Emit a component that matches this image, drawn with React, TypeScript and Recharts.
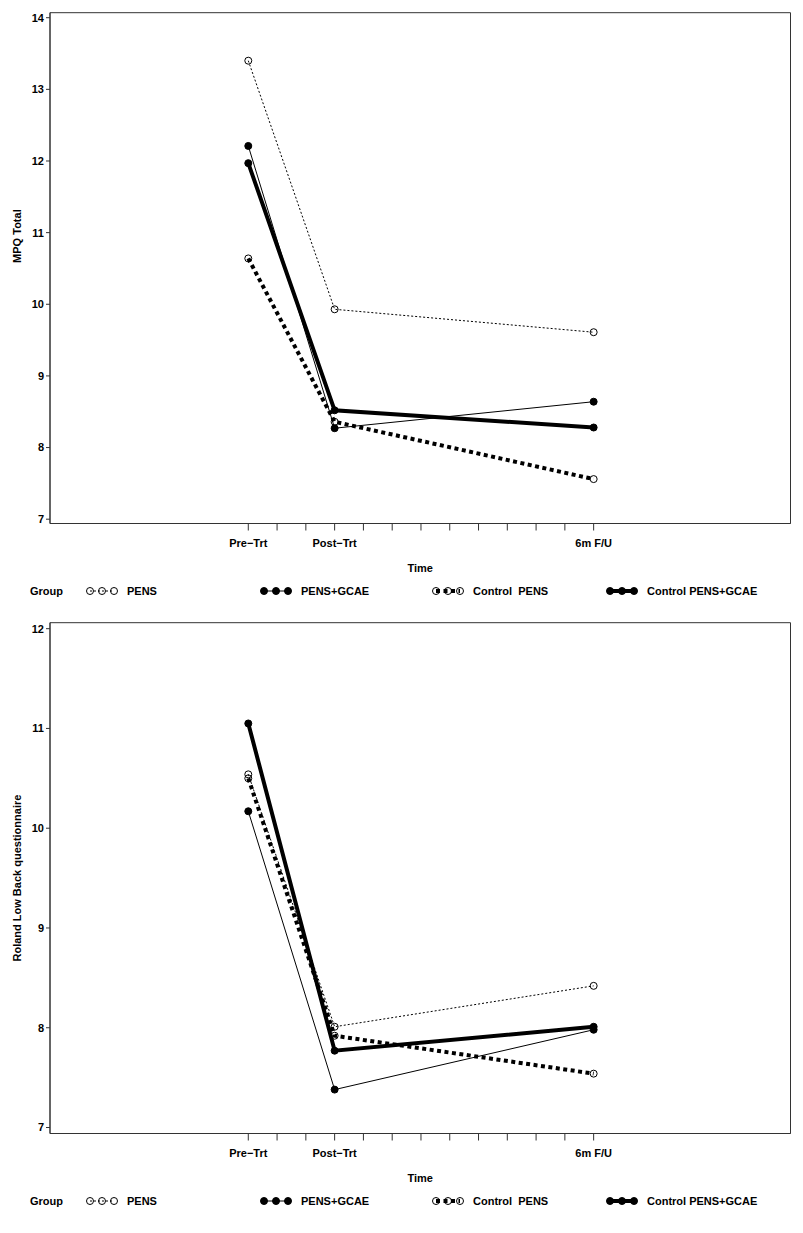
import React from 'react';
import { LineChart, Line, XAxis, YAxis, Label, ReferenceArea } from 'recharts';

// ---- data ----
const timePoints = [0, 3, 12];
const axisTicks = [0, 1, 2, 3, 4, 5, 6, 7, 8, 9, 10, 11, 12];
const tickLabels: Record<number, string> = { 0: 'Pre\u2212Trt', 3: 'Post\u2212Trt', 12: '6m  F/U' };

const groupNames = ['PENS', 'PENS+GCAE', 'Control  PENS', 'Control PENS+GCAE'];

const mpqPens = [13.4, 9.93, 9.61];
const mpqPensGcae = [12.21, 8.27, 8.64];
const mpqControlPens = [10.64, 8.36, 7.56];
const mpqControlPensGcae = [11.97, 8.52, 8.28];

const rolandPens = [10.54, 8.01, 8.42];
const rolandPensGcae = [10.17, 7.38, 7.98];
const rolandControlPens = [10.5, 7.92, 7.54];
const rolandControlPensGcae = [11.05, 7.77, 8.01];

const mpqTicks = [7, 8, 9, 10, 11, 12, 13, 14];
const rolandTicks = [7, 8, 9, 10, 11, 12];

// ---- styles ----
const FONT = '"Liberation Sans", Arial, Helvetica, sans-serif';
const seriesStyles = [
  { key: 'pens', width: 1, dash: '2 2', filled: false },
  { key: 'pensGcae', width: 1, dash: undefined, filled: true },
  { key: 'controlPens', width: 4, dash: '4 3.5', filled: false },
  { key: 'controlPensGcae', width: 4, dash: undefined, filled: true },
];

const makeDot = (filled: boolean) => (props: any) => {
  const { cx, cy, index } = props;
  if (cx == null || cy == null) return <g key={index} />;
  return (
    <circle
      key={index}
      cx={cx}
      cy={cy}
      r={3.5}
      fill={filled ? '#000' : 'none'}
      stroke="#000"
      strokeWidth={1}
    />
  );
};

const buildRows = (a: number[], b: number[], c: number[], d: number[]) =>
  timePoints.map((t, i) => ({ t, pens: a[i], pensGcae: b[i], controlPens: c[i], controlPensGcae: d[i] }));

const CHART_H = 580;
const MARGIN = { top: 12.7, right: 12.5, left: 0, bottom: 0 };
const X_DOMAIN: [number, number] = [-6.89, 18.84];

function Legend() {
  const starts = [87, 261, 433, 607];
  return (
    <svg width={803} height={20} style={{ position: 'absolute', left: 0, top: 580.7 }}>
      <text x={30} y={14} fontFamily={FONT} fontSize={11} fontWeight="bold" fill="#000">Group</text>
      {seriesStyles.map((s, i) => {
        const sx = starts[i];
        const xs = [sx + 3, sx + 15, sx + 27];
        return (
          <g key={s.key}>
            <line x1={xs[0]} x2={xs[2]} y1={10} y2={10} stroke="#000" strokeWidth={s.width} strokeDasharray={s.dash} />
            {xs.map((x, j) => (
              <circle key={j} cx={x} cy={10} r={3.5} fill={s.filled ? '#000' : 'none'} stroke="#000" strokeWidth={1} />
            ))}
            <text x={sx + 40} y={14} fontFamily={FONT} fontSize={11} fontWeight="bold" fill="#000" style={{ whiteSpace: 'pre' }}>
              {groupNames[i]}
            </text>
          </g>
        );
      })}
    </svg>
  );
}

function Panel(props: {
  top: number;
  rows: any[];
  yDomain: [number, number];
  yTicks: number[];
  yLabel: string;
  yLabelShift: number;
}) {
  const { top, rows, yDomain, yTicks, yLabel, yLabelShift } = props;
  const renderYLabel = (p: any) => {
    const vb = p.viewBox || {};
    const cy = vb.y + vb.height / 2 + yLabelShift;
    const cx = 17;
    return (
      <text
        x={cx}
        y={cy}
        transform={`rotate(-90 ${cx} ${cy})`}
        textAnchor="middle"
        dominantBaseline="central"
        fontFamily={FONT}
        fontSize={11}
        fontWeight="bold"
        fill="#000"
      >
        {yLabel}
      </text>
    );
  };
  const tickStyle = { fill: '#000', fontSize: 11, fontWeight: 'bold', fontFamily: FONT } as any;
  return (
    <div style={{ position: 'absolute', left: 0, top, width: 803, height: 610 }}>
      <LineChart width={803} height={CHART_H} data={rows} margin={MARGIN}>
        <XAxis
          xAxisId={0}
          dataKey="t"
          type="number"
          domain={X_DOMAIN}
          allowDataOverflow
          ticks={axisTicks}
          interval={0}
          tickFormatter={(v: number) => tickLabels[v] ?? ''}
          tickSize={7}
          tickMargin={8.4}
          height={56.5}
          stroke="#333"
          tick={tickStyle}
        >
          <Label value="Time" position="insideBottom" offset={8.3} fill="#000" fontSize={11} fontWeight="bold" fontFamily={FONT} />
        </XAxis>
        <YAxis
          yAxisId={0}
          type="number"
          domain={yDomain}
          allowDataOverflow
          ticks={yTicks}
          interval={0}
          tickSize={4}
          tickMargin={2}
          width={50}
          stroke="#333"
          tick={tickStyle}
        >
          <Label content={renderYLabel} />
        </YAxis>
        <ReferenceArea
          xAxisId={0}
          yAxisId={0}
          x1={X_DOMAIN[0]}
          x2={X_DOMAIN[1]}
          y1={yDomain[0]}
          y2={yDomain[1]}
          fill="none"
          fillOpacity={0}
          stroke="#333"
          strokeWidth={1}
          ifOverflow="visible"
        />
        {seriesStyles.map((s) => (
          <Line
            key={s.key}
            xAxisId={0}
            yAxisId={0}
            type="linear"
            dataKey={s.key}
            stroke="#000"
            strokeWidth={s.width}
            strokeDasharray={s.dash}
            dot={makeDot(s.filled)}
            activeDot={false}
            isAnimationActive={false}
          />
        ))}
      </LineChart>
      <Legend />
    </div>
  );
}

export default function App() {
  return (
    <div style={{ position: 'absolute', left: 0, top: 0, width: 803, height: 1233, background: '#fff', fontFamily: FONT }}>
      <Panel
        top={0}
        rows={buildRows(mpqPens, mpqPensGcae, mpqControlPens, mpqControlPensGcae)}
        yDomain={[6.94, 14.07]}
        yTicks={mpqTicks}
        yLabel="MPQ Total"
        yLabelShift={-32}
      />
      <Panel
        top={610}
        rows={buildRows(rolandPens, rolandPensGcae, rolandControlPens, rolandControlPensGcae)}
        yDomain={[6.94, 12.06]}
        yTicks={rolandTicks}
        yLabel="Roland Low Back questionnaire"
        yLabelShift={0}
      />
    </div>
  );
}
